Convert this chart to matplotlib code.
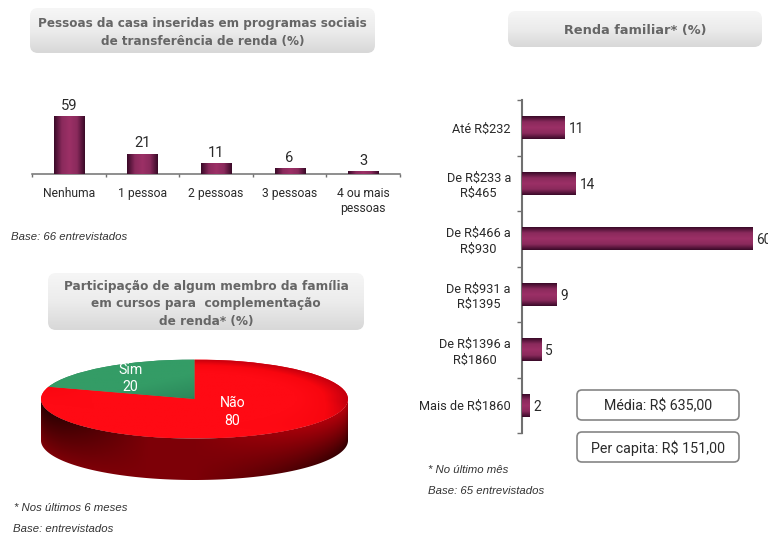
import numpy as np
import matplotlib
matplotlib.use('Agg')
import matplotlib.pyplot as plt
from matplotlib.colors import LinearSegmentedColormap
from matplotlib.patches import FancyBboxPatch, Polygon

W, H = 768, 534

pessoas_labels = ['Nenhuma', '1 pessoa', '2 pessoas', '3 pessoas', '4 ou mais\npessoas']
pessoas_values = [59, 21, 11, 6, 3]

renda_labels = ['Até R$232', 'De R$233 a\nR$465', 'De R$466 a\nR$930',
                'De R$931 a\nR$1395', 'De R$1396 a\nR$1860', 'Mais de R$1860']
renda_values = [11, 14, 60, 9, 5, 2]

pie_labels = ['Sim', 'Não']
pie_values = [20, 80]

LABEL_FONT = 'Roboto'
NOTE_FONT = 'Liberation Sans'
AXIS_GREY = '#707070'
TEXT = '#2a2a2a'

bar_cmap = LinearSegmentedColormap.from_list(
    'bar', ['#3a0a28', '#8a2a5c', '#9c3066', '#8a2a5c', '#3a0a28'])
title_cmap = LinearSegmentedColormap.from_list('title', ['#f6f6f6', '#ececec', '#d8d8d8'])
red_cmap = LinearSegmentedColormap.from_list('red', ['#ff0a14', '#f8060f', '#c4000e'])
green_cmap = LinearSegmentedColormap.from_list('green', ['#349c66', '#2c8a5c', '#0c4a30'])
wall_cmap = LinearSegmentedColormap.from_list('wall', ['#1a0000', '#c0000c'])

fig = plt.figure(figsize=(W / 100, H / 100), dpi=100)


def px_axes(left, top, right, bottom, **kw):
    return fig.add_axes([left / W, 1 - bottom / H, (right - left) / W, (bottom - top) / H], **kw)


def shade_bars(ax, bars, vertical_stripes):
    # every bar gets a shaded image clipped to its own rectangle
    xlim, ylim = ax.get_xlim(), ax.get_ylim()
    grad = np.linspace(0, 1, 64)
    grad = grad[None, :] if vertical_stripes else grad[:, None]
    for b in bars:
        x0, y0 = b.get_x(), b.get_y()
        x1, y1 = x0 + b.get_width(), y0 + b.get_height()
        im = ax.imshow(grad, extent=(x0, x1, y0, y1), cmap=bar_cmap, aspect='auto', zorder=3)
        im.set_clip_path(b)
    ax.set_xlim(xlim)
    ax.set_ylim(ylim)


# overlay in pixel coordinates for the title boxes and the notes
over = fig.add_axes([0, 0, 1, 1], zorder=5)
over.set_xlim(0, W)
over.set_ylim(H, 0)
over.axis('off')


def title_box(x0, y0, x1, y1, text, y_text, size):
    box = FancyBboxPatch((x0 + 7, y0 + 7), x1 - x0 - 14, y1 - y0 - 14,
                         boxstyle='round,pad=7,rounding_size=8', fc='none', ec='none')
    over.add_patch(box)
    im = over.imshow(np.linspace(0, 1, 64)[:, None], extent=(x0, x1, y1, y0),
                     cmap=title_cmap, aspect='auto')
    im.set_clip_path(box)
    over.text((x0 + x1) / 2, y_text, text, ha='center', va='center', color='#666666',
              fontsize=size, fontweight='bold', linespacing=1.42, family='DejaVu Sans')


title_box(30, 8, 375, 53, 'Pessoas da casa inseridas em programas sociais\n'
          'de transferência de renda (%)', 32.5, 8.65)
title_box(508, 11, 762, 47, 'Renda familiar* (%)', 30.5, 9.25)
title_box(48, 273, 364, 330, 'Participação de algum membro da família\n'
          'em cursos para  complementação\nde renda* (%)', 304, 8.7)

for (x0, y0, x1, y1, txt, size) in [(577, 390, 739, 420, 'Média: R$ 635,00', 10.2),
                                    (577, 432, 739, 462, 'Per capita: R$ 151,00', 10.3)]:
    over.add_patch(FancyBboxPatch((x0 + 5, y0 + 5), x1 - x0 - 10, y1 - y0 - 10,
                                  boxstyle='round,pad=5,rounding_size=5',
                                  fc='white', ec='#858585', lw=1.2))
    over.text((x0 + x1) / 2, (y0 + y1) / 2 + 1, txt, ha='center', va='center',
              fontsize=size, color=TEXT, family=LABEL_FONT)

for x, y, txt in [(11, 237, 'Base: 66 entrevistados'),
                  (14, 508, '* Nos últimos 6 meses'),
                  (13, 529, 'Base: entrevistados'),
                  (428, 470, '* No último mês'),
                  (428, 491, 'Base: 65 entrevistados')]:
    over.text(x, y, txt, ha='left', va='center', fontsize=8.2, style='italic',
              color='#333333', family=NOTE_FONT)
over.set_xlim(0, W)
over.set_ylim(H, 0)

# top left columns
ax1 = px_axes(32, 98, 400, 174)
pos1 = np.arange(len(pessoas_values))
bars1 = ax1.bar(pos1, pessoas_values, width=0.41, color='#7a2452', edgecolor='none')
ax1.set_xlim(-0.5, 4.5)
ax1.set_ylim(0, 76 / 0.975)
shade_bars(ax1, bars1, True)
for x, v in zip(pos1, pessoas_values):
    ax1.annotate(str(v), (x, v), xytext=(0, 2.5), textcoords='offset points', ha='center',
                 va='bottom', fontsize=10.6, color=TEXT, family=LABEL_FONT)
ax1.set_xticks(pos1, pessoas_labels, family=LABEL_FONT, fontsize=8.7, color=TEXT, va='top')
ax1.tick_params(axis='x', which='major', length=0, pad=9.5)
ax1.set_xticks(np.arange(-0.5, 5), minor=True)
ax1.tick_params(axis='x', which='minor', length=2.5, width=1, color=AXIS_GREY, direction='out')
ax1.get_yaxis().set_visible(False)
for s in ['top', 'left', 'right']:
    ax1.spines[s].set_visible(False)
ax1.spines['bottom'].set_color(AXIS_GREY)
ax1.spines['bottom'].set_linewidth(1.1)
ax1.patch.set_alpha(0)

# right horizontal bars
ax2 = px_axes(522, 100, 768, 433)
pos2 = np.arange(len(renda_values))
bars2 = ax2.barh(pos2, renda_values, height=0.41, color='#7a2452', edgecolor='none')
ax2.set_xlim(0, 246 / 3.84)
ax2.set_ylim(5.5, -0.5)
shade_bars(ax2, bars2, False)
for y, v in zip(pos2, renda_values):
    ax2.annotate(str(v), (v, y), xytext=(3, -1), textcoords='offset points', ha='left',
                 va='center', fontsize=9.8, color=TEXT, family=LABEL_FONT,
                 annotation_clip=False)
ax2.set_yticks(pos2, renda_labels, family=LABEL_FONT, fontsize=9.2, color=TEXT, ha='right',
               multialignment='center', linespacing=1.25)
ax2.tick_params(axis='y', which='major', length=0, pad=8)
ax2.set_yticks(np.arange(-0.5, 6), minor=True)
ax2.tick_params(axis='y', which='minor', length=3.4, width=1, color=AXIS_GREY, direction='out')
ax2.get_xaxis().set_visible(False)
for s in ['top', 'bottom', 'right']:
    ax2.spines[s].set_visible(False)
ax2.spines['left'].set_color(AXIS_GREY)
ax2.spines['left'].set_linewidth(1.5)
ax2.patch.set_alpha(0)

# pie, squashed to an ellipse with a wall under it
depth = 41.5 / 39.5
ax3 = px_axes(41, 359.5, 348, 480)
wedges, _ = ax3.pie(pie_values, startangle=90, counterclock=True, radius=1, center=(0, 0),
                    colors=['#2c8a5c', '#f4040f'], frame=False)

theta = np.linspace(np.pi, 2 * np.pi, 200)
edge_x, edge_y = np.cos(theta), np.sin(theta)
wall = Polygon(np.r_[np.c_[edge_x, edge_y], np.c_[edge_x[::-1], edge_y[::-1] - depth]],
               closed=True, fc='none', ec='none')
ax3.add_patch(wall)
# wall shading: dark under the rim on the left, dark along the bottom on the right
xx, yy = np.meshgrid(np.linspace(-1, 1, 200), np.linspace(0, -1 - depth, 100))
rim = -np.sqrt(1 - xx ** 2)
v = np.clip((rim - yy) / depth, 0, 1)
shade = (0.6 + 0.8 * np.clip(xx, 0, 1) * (0.45 - v)
         - 0.75 * np.clip(-xx - 0.3, 0, 1) * (1 - v))
wall_im = ax3.imshow(shade, extent=(-1, 1, -1 - depth, 0), cmap=wall_cmap, aspect='auto',
                     vmin=0, vmax=1, zorder=1)
wall_im.set_clip_path(wall)

xx, yy = np.meshgrid(np.linspace(-1, 1, 200), np.linspace(1, -1, 100))
red_t = np.clip((xx ** 2 + yy ** 2 - 0.45) / 0.55, 0, 1) * np.clip(yy + 0.5 * xx + 0.6, 0, 1)
red_im = ax3.imshow(red_t, extent=(-1, 1, -1, 1), cmap=red_cmap, aspect='auto',
                    vmin=0, vmax=1, zorder=2)
red_im.set_clip_path(wedges[1])
green_im = ax3.imshow(np.clip(0.75 * (xx + 0.4) + 0.9 * (0.3 - yy), 0, 1), extent=(-1, 1, -1, 1),
                      cmap=green_cmap, aspect='auto', vmin=0, vmax=1, zorder=2)
green_im.set_clip_path(wedges[0])

ax3.set_aspect('auto')
ax3.set_xlim(-1, 1)
ax3.set_ylim(-1 - depth, 1)
ax3.axis('off')

pie_text_pos = [(-0.417, 0.52), (0.248, -0.33)]
for name, v, (x, y) in zip(pie_labels, pie_values, pie_text_pos):
    ax3.text(x, y, f'{name}\n{v}', ha='center', va='center', color='white',
             fontsize=10.2, family=LABEL_FONT, linespacing=1.3, zorder=6)

fig.savefig('out.png', dpi=100)
